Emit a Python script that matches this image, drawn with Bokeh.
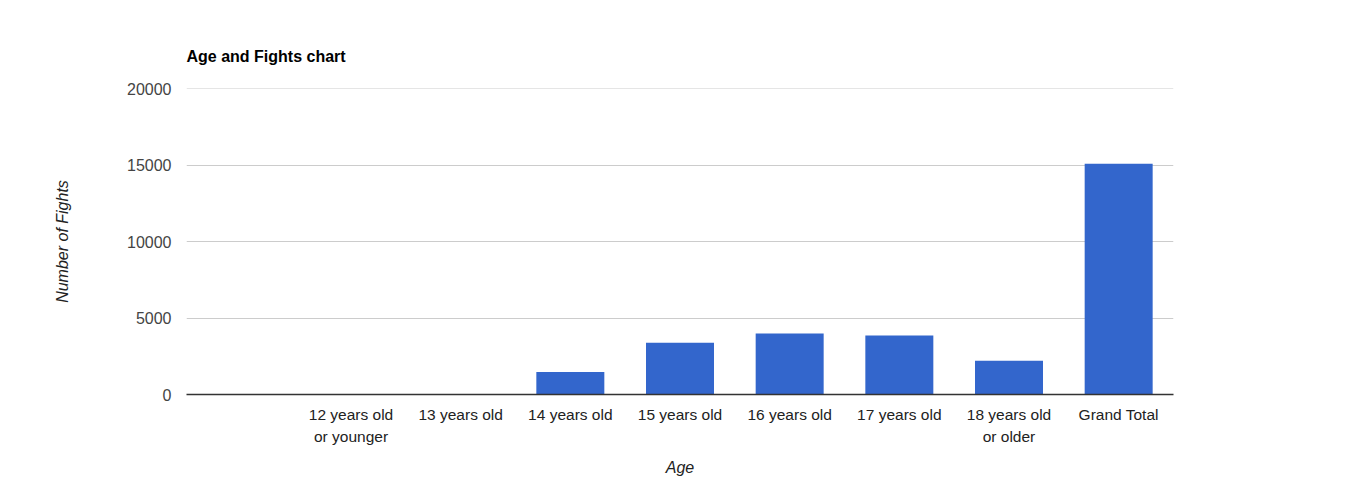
from bokeh.plotting import figure
from bokeh.models import FixedTicker, ColumnDataSource, Span
from bokeh.embed import file_html
from bokeh.resources import INLINE

categories = [" ", "12 years old\nor younger", "13 years old", "14 years old",
              "15 years old", "16 years old", "17 years old",
              "18 years old\nor older", "Grand Total"]
fights = [30, 0, 0, 1470, 3390, 3980, 3850, 2200, 15080]
y_ticks = [0, 5000, 10000, 15000, 20000]

FONT = "Liberation Sans"
FS_X = "15.5px"
FS = "16px"

src = ColumnDataSource(dict(cat=categories, val=fights))

p = figure(x_range=categories, y_range=(0, 20000),
           frame_width=987, frame_height=306,
           output_backend="svg", toolbar_location=None,
           min_border_left=186, min_border_right=174,
           min_border_top=88, min_border_bottom=60,
           title="Age and Fights chart")
p.outline_line_color = None
p.background_fill_color = "white"
p.border_fill_color = "white"

p.add_layout(Span(location=y_ticks[-1], dimension="width",
                  line_color="#cccccc", line_width=1))

p.vbar(x="cat", top="val", width=0.62, source=src, color="#3366cc", line_color=None)

p.title.text_font = FONT
p.title.text_font_size = FS
p.title.text_font_style = "bold"
p.title.text_color = "#000000"
p.title.align = "left"
p.title.offset = 0
p.title.standoff = 48

p.xgrid.grid_line_color = None
p.ygrid.grid_line_color = "#cccccc"
p.ygrid.ticker = FixedTicker(ticks=y_ticks)

p.yaxis.ticker = FixedTicker(ticks=y_ticks)
p.yaxis.axis_line_color = None
p.yaxis.major_tick_line_color = None
p.yaxis.minor_tick_line_color = None
p.yaxis.major_label_text_font = FONT
p.yaxis.major_label_text_font_size = FS
p.yaxis.major_label_text_color = "#444444"
p.yaxis.major_label_standoff = 9
p.yaxis.axis_label = "Number of Fights"
p.yaxis.axis_label_text_font = FONT
p.yaxis.axis_label_text_font_size = FS
p.yaxis.axis_label_text_font_style = "italic"
p.yaxis.axis_label_text_color = "#222222"
p.yaxis.axis_label_standoff = 53

p.xaxis.axis_line_color = "#333333"
p.xaxis.axis_line_width = 1.5
p.xaxis.major_tick_line_color = None
p.xaxis.minor_tick_line_color = None
p.xaxis.major_label_text_font = FONT
p.xaxis.major_label_text_font_size = FS_X
p.xaxis.major_label_text_color = "#222222"
p.xaxis.major_label_text_line_height = 1.35
p.xaxis.major_label_standoff = 5
p.xaxis.axis_label = "Age"
p.xaxis.axis_label_text_font = FONT
p.xaxis.axis_label_text_font_size = FS
p.xaxis.axis_label_text_font_style = "italic"
p.xaxis.axis_label_text_color = "#222222"
p.xaxis.axis_label_standoff = 11

p.x_range.range_padding = 0

open("out.html", "w").write(file_html(p, INLINE))
